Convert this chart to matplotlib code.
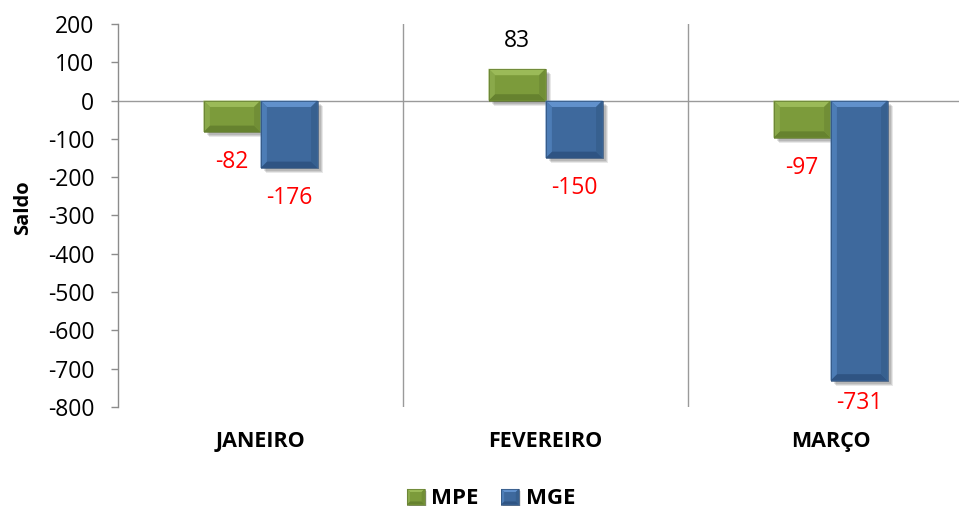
import numpy as np
import matplotlib
matplotlib.use("Agg")
import matplotlib.pyplot as plt
from matplotlib.patheffects import AbstractPathEffect
from matplotlib.path import Path
from matplotlib.transforms import IdentityTransform
from matplotlib.patches import Rectangle

# ---- data ----
categories = ["JANEIRO", "FEVEREIRO", "MARÇO"]
series_names = ["MPE", "MGE"]
mpe = [-82, 83, -97]
mge = [-176, -150, -731]
yticks = list(range(-800, 201, 100))

plt.rcParams['font.family'] = ['Open Sans', 'DejaVu Sans']

GREEN = dict(face="#7C9B3B", top="#9BBA58", left="#8AA94A", right="#718E36", bottom="#66822F", edge="#61792F")
BLUE = dict(face="#3E699D", top="#6191CC", left="#4D7DB6", right="#37608F", bottom="#2F5483", edge="#2E4F78")


class Bevel(AbstractPathEffect):
    def __init__(self, colors, bevel_pt=4.6, shadow_pt=1.8):
        super().__init__()
        self.c = colors
        self.b = bevel_pt
        self.s = shadow_pt

    def draw_path(self, renderer, gc, tpath, affine, rgbFace=None):
        v = affine.transform(tpath.vertices)
        x0, y0 = v.min(axis=0)
        x1, y1 = v.max(axis=0)
        b = min(renderer.points_to_pixels(self.b), (x1 - x0) / 2.2, (y1 - y0) / 2.2)
        s = renderer.points_to_pixels(self.s)
        ident = IdentityTransform()

        def poly(pts, color, alpha=None):
            g = renderer.new_gc()
            g.copy_properties(gc)
            g.set_linewidth(0)
            if alpha is not None:
                g.set_alpha(alpha)
            pts = np.array(pts + [pts[0]], dtype=float)
            rgb = matplotlib.colors.to_rgba(color)
            renderer.draw_path(g, Path(pts), ident, rgb)
            g.restore()

        # soft shadow
        for k, a in [(1.0, 0.09), (0.6, 0.11), (0.3, 0.11)]:
            off = s * (1 + k)
            poly([(x0 + off, y0 - off), (x1 + off, y0 - off), (x1 + off, y1 - off), (x0 + off, y1 - off)], "#000000", a)
        # face
        poly([(x0, y0), (x1, y0), (x1, y1), (x0, y1)], self.c["face"])
        # facets
        poly([(x0, y1), (x1, y1), (x1 - b, y1 - b), (x0 + b, y1 - b)], self.c["top"])
        poly([(x0, y0), (x1, y0), (x1 - b, y0 + b), (x0 + b, y0 + b)], self.c["bottom"])
        poly([(x0, y0), (x0 + b, y0 + b), (x0 + b, y1 - b), (x0, y1)], self.c["left"])
        poly([(x1, y0), (x1 - b, y0 + b), (x1 - b, y1 - b), (x1, y1)], self.c["right"])
        # thin outline
        g = renderer.new_gc()
        g.copy_properties(gc)
        g.set_linewidth(0.5)
        g.set_foreground(self.c["edge"])
        pts = np.array([(x0, y0), (x1, y0), (x1, y1), (x0, y1), (x0, y0)])
        renderer.draw_path(g, Path(pts), ident, None)
        g.restore()


W, H = 959, 508
fig = plt.figure(figsize=(W / 100, H / 100), dpi=100)
ax_left, ax_right, ax_top, ax_bottom = 118, 973, 24, 407
ax = fig.add_axes([ax_left / W, 1 - ax_bottom / H, (ax_right - ax_left) / W, (ax_bottom - ax_top) / H])

x = np.arange(len(categories))
bw = 0.2
ymin, ymax = -800, 200
ax.set_xlim(-0.5, len(categories) - 0.5)
ax.set_ylim(ymin, ymax)

# gridlines / separators
for sep in x[:-1] + 0.5:
    ax.axvline(sep, color="#9A9A9A", lw=1.0, zorder=1)
ax.axhline(0, color="#9A9A9A", lw=1.0, zorder=1)

bars_g = ax.bar(x - bw / 2, mpe, width=bw, color=GREEN["face"], zorder=3)
bars_b = ax.bar(x + bw / 2, mge, width=bw, color=BLUE["face"], zorder=3)
for b in bars_g:
    b.set_path_effects([Bevel(GREEN)])
for b in bars_b:
    b.set_path_effects([Bevel(BLUE)])

# data labels
px_per_unit = (ax_bottom - ax_top) / (ymax - ymin)
for xs, vals in [(x - bw / 2, mpe), (x + bw / 2, mge)]:
    for xi, v in zip(xs, vals):
        if v >= 0:
            off = 28
            color = "black"
        else:
            avail = (v - ymin) * px_per_unit
            off = -min(30, avail - 4)
            color = "#FF0000"
        ax.annotate(f"{v}", xy=(xi, v), xytext=(0, off * 0.72), textcoords="offset points",
                    ha="center", va="center", fontsize=16.5, color=color, zorder=5)

# axes styling
for sp in ["top", "right", "bottom"]:
    ax.spines[sp].set_visible(False)
ax.spines["left"].set_color("#8C8C8C")
ax.spines["left"].set_linewidth(1.0)
ax.set_yticks(yticks)
ax.set_yticklabels([str(t) for t in yticks])
ax.tick_params(axis="y", direction="out", length=5, width=1, color="#8C8C8C",
               labelsize=16.5, pad=12)
ax.set_xticks(x)
ax.set_xticklabels(categories, fontsize=15.5, fontweight="bold")
ax.tick_params(axis="x", length=0, pad=17, labelbottom=True)
ax.set_ylabel("Saldo", fontsize=14.5, fontweight="bold")
ax.yaxis.set_label_coords(-0.099, 0.52)

# legend
handles = []
for name, col in zip(series_names, [GREEN, BLUE]):
    r = Rectangle((0, 0), 1, 1, color=col["face"], label=name)
    r.set_path_effects([Bevel(col, bevel_pt=2.2, shadow_pt=0.7)])
    handles.append(r)
leg = fig.legend(handles=handles, loc="center", bbox_to_anchor=(491 / W, 1 - 499 / H), ncol=2,
                 frameon=False, prop=dict(size=16, weight="bold"), handlelength=0.8,
                 handleheight=0.7, handletextpad=0.3, columnspacing=1.0)

fig.savefig("out.png", dpi=100)
